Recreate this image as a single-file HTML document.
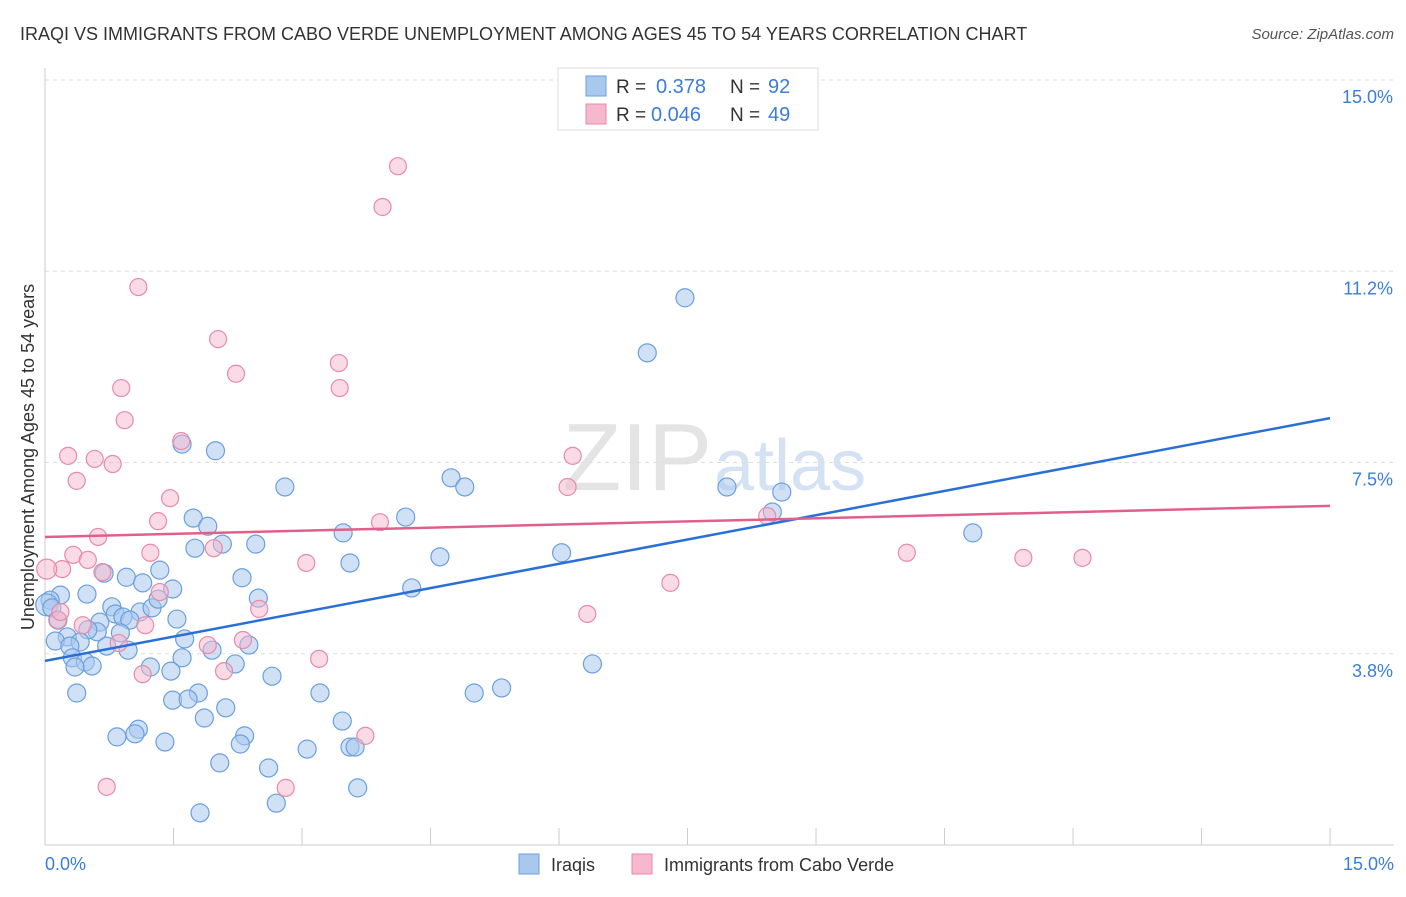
<!DOCTYPE html>
<html><head><meta charset="utf-8"><style>
body{margin:0;background:#fff;font-family:"Liberation Sans",sans-serif;}
svg text{font-family:"Liberation Sans",sans-serif;}
</style></head><body>
<svg id="chart" width="1406" height="892">
<text x="20" y="40" font-size="18" fill="#333">IRAQI VS IMMIGRANTS FROM CABO VERDE UNEMPLOYMENT AMONG AGES 45 TO 54 YEARS CORRELATION CHART</text>
<text x="1394" y="39" font-size="15" fill="#555" font-style="italic" text-anchor="end">Source: ZipAtlas.com</text>
<text x="712" y="490" font-size="96" fill="#e4e4e4" text-anchor="end" font-family="Liberation Serif">ZIP</text>
<text x="714" y="490" font-size="72" fill="#d4e2f4">atlas</text>
<g id="grid"></g><g id="axes"></g><g id="pts"></g><g id="lines"></g>
<text transform="translate(34,457) rotate(-90)" font-size="18" fill="#333" text-anchor="middle">Unemployment Among Ages 45 to 54 years</text>
<text x="45" y="870" font-size="18" fill="#3b7dd8">0.0%</text>
<text x="1394" y="870" font-size="18" fill="#3b7dd8" text-anchor="end">15.0%</text>
<g>
<rect x="558" y="68" width="260" height="62" fill="#fff" stroke="#ddd"/>
<rect x="586" y="76" width="20" height="20" fill="#a9c8ee" stroke="#6a9fe0"/>
<rect x="586" y="104" width="20" height="20" fill="#f6b8cc" stroke="#e88aa8"/>
<text x="616" y="93" font-size="19" fill="#333">R =</text><text x="656" y="93" font-size="20" fill="#3b7dd8">0.378</text>
<text x="730" y="93" font-size="19" fill="#333">N =</text><text x="768" y="93" font-size="20" fill="#3b7dd8">92</text>
<text x="616" y="121" font-size="19" fill="#333">R =</text><text x="651" y="121" font-size="20" fill="#3b7dd8">0.046</text>
<text x="730" y="121" font-size="19" fill="#333">N =</text><text x="768" y="121" font-size="20" fill="#3b7dd8">49</text>
</g>
<g>
<rect x="519" y="854" width="20" height="20" fill="#a9c8ee" stroke="#6a9fe0"/>
<text x="551" y="871" font-size="18" fill="#333">Iraqis</text>
<rect x="632" y="854" width="20" height="20" fill="#f6b8cc" stroke="#e88aa8"/>
<text x="664" y="871" font-size="18" fill="#333">Immigrants from Cabo Verde</text>
</g>
</svg>
<script>
const yTicks=[15,11.25,7.5,3.75];
const yTickLabels=["15.0%","11.2%","7.5%","3.8%"];
const xTicks=[0,1.5,3,4.5,6,7.5,9,10.5,12,13.5,15];
const iraqiX=[7.47,7.03,1.60,1.99,2.80,4.74,4.90,7.96,8.60,4.21,1.73,1.90,3.48,1.75,2.07,2.46,4.61,6.03,10.83,8.49,3.56,1.34,2.30,0.95,0.69,1.14,1.49,4.28,0.49,0.18,0.06,0.02,0.08,2.49,0.78,0.82,1.11,1.25,1.32,0.91,0.99,0.64,1.54,0.61,0.88,0.50,0.15,0.26,1.63,0.12,0.41,0.29,0.72,0.97,2.38,1.95,0.32,0.47,1.60,0.55,1.23,2.22,0.35,1.47,6.39,2.65,0.37,1.79,3.21,5.01,5.33,1.49,1.67,2.11,1.86,3.47,1.09,1.05,0.84,1.40,2.33,2.28,3.06,3.56,3.62,2.04,2.61,3.65,2.70,1.81];
const iraqiY=[10.73,9.65,7.86,7.73,7.02,7.20,7.02,7.02,6.92,6.43,6.41,6.25,6.12,5.82,5.90,5.90,5.65,5.73,6.12,6.53,5.53,5.39,5.24,5.25,5.33,5.14,5.02,5.04,4.92,4.90,4.80,4.71,4.65,4.84,4.67,4.53,4.57,4.65,4.82,4.47,4.41,4.37,4.43,4.18,4.16,4.22,4.41,4.08,4.04,4.00,3.98,3.90,3.90,3.82,3.92,3.82,3.67,3.59,3.67,3.51,3.49,3.55,3.49,3.41,3.55,3.31,2.98,2.98,2.98,2.98,3.08,2.84,2.86,2.69,2.49,2.43,2.27,2.18,2.12,2.02,2.14,1.98,1.88,1.92,1.92,1.61,1.51,1.12,0.82,0.63];
const caboX=[4.12,3.94,1.09,2.02,3.43,2.23,0.89,3.44,0.93,1.59,0.27,0.58,0.79,6.16,0.37,6.10,1.46,1.32,3.91,8.43,0.62,0.33,1.23,0.50,1.97,3.05,10.06,11.42,12.11,0.20,0.02,0.67,7.30,1.34,2.50,6.33,0.15,1.17,0.44,0.86,1.90,2.31,3.20,1.14,2.09,3.74,0.72,2.81,0.18];
const caboY=[13.31,12.51,10.94,9.92,9.45,9.24,8.96,8.96,8.33,7.92,7.63,7.57,7.47,7.63,7.14,7.02,6.80,6.35,6.33,6.45,6.04,5.69,5.73,5.59,5.82,5.53,5.73,5.63,5.63,5.41,5.41,5.35,5.14,4.96,4.63,4.53,4.41,4.31,4.31,3.96,3.92,4.02,3.65,3.35,3.41,2.14,1.14,1.12,4.57];
const blueFit=[3.61,8.37], pinkFit=[6.04,6.65];
const NS="http://www.w3.org/2000/svg";
const X=v=>45+v*85.67, Y=v=>845-v*51;
function mk(tag,attrs,parent){const e=document.createElementNS(NS,tag);for(const k in attrs)e.setAttribute(k,attrs[k]);document.getElementById(parent).appendChild(e);return e;}
yTicks.forEach((t,i)=>{
 const l=mk('line',{x1:45,x2:1394,y1:Y(t),y2:Y(t),stroke:'#ddd','stroke-dasharray':'4,4'},'grid');
 
 
 const tx=mk('text',{x:1393,y:Y(t)+23,'font-size':18,fill:'#3b7dd8','text-anchor':'end'},'grid');
 tx.textContent=yTickLabels[i];
 
 
});
const ax=mk('line',{x1:45,x2:45,y1:68,y2:845,stroke:'#ccc'},'axes');


const bx=mk('line',{x1:45,x2:1394,y1:845,y2:845,stroke:'#ccc'},'axes');


xTicks.forEach(t=>{
 const l=mk('line',{x1:X(t),x2:X(t),y1:828,y2:845,stroke:'#ccc'},'axes');
 
 
});
iraqiX.forEach((v,i)=>{
 const c=mk('circle',{cx:X(v),cy:Y(iraqiY[i]),r:i==31?11:9,fill:'rgba(169,200,238,0.55)',stroke:'#6a9fe0','stroke-width':1.2},'pts');
 
 
});
caboX.forEach((v,i)=>{
 const c=mk('circle',{cx:X(v),cy:Y(caboY[i]),r:i==30?10:8.5,fill:'rgba(246,184,204,0.5)',stroke:'#e88aa8','stroke-width':1.2},'pts');
 
 
});
const bl=mk('line',{x1:X(0),y1:Y(blueFit[0]),x2:X(15),y2:Y(blueFit[1]),stroke:'#2a6fd6','stroke-width':2.5},'lines');


const pl=mk('line',{x1:X(0),y1:Y(pinkFit[0]),x2:X(15),y2:Y(pinkFit[1]),stroke:'#e0608a','stroke-width':2.5},'lines');


</script>
</body></html>
